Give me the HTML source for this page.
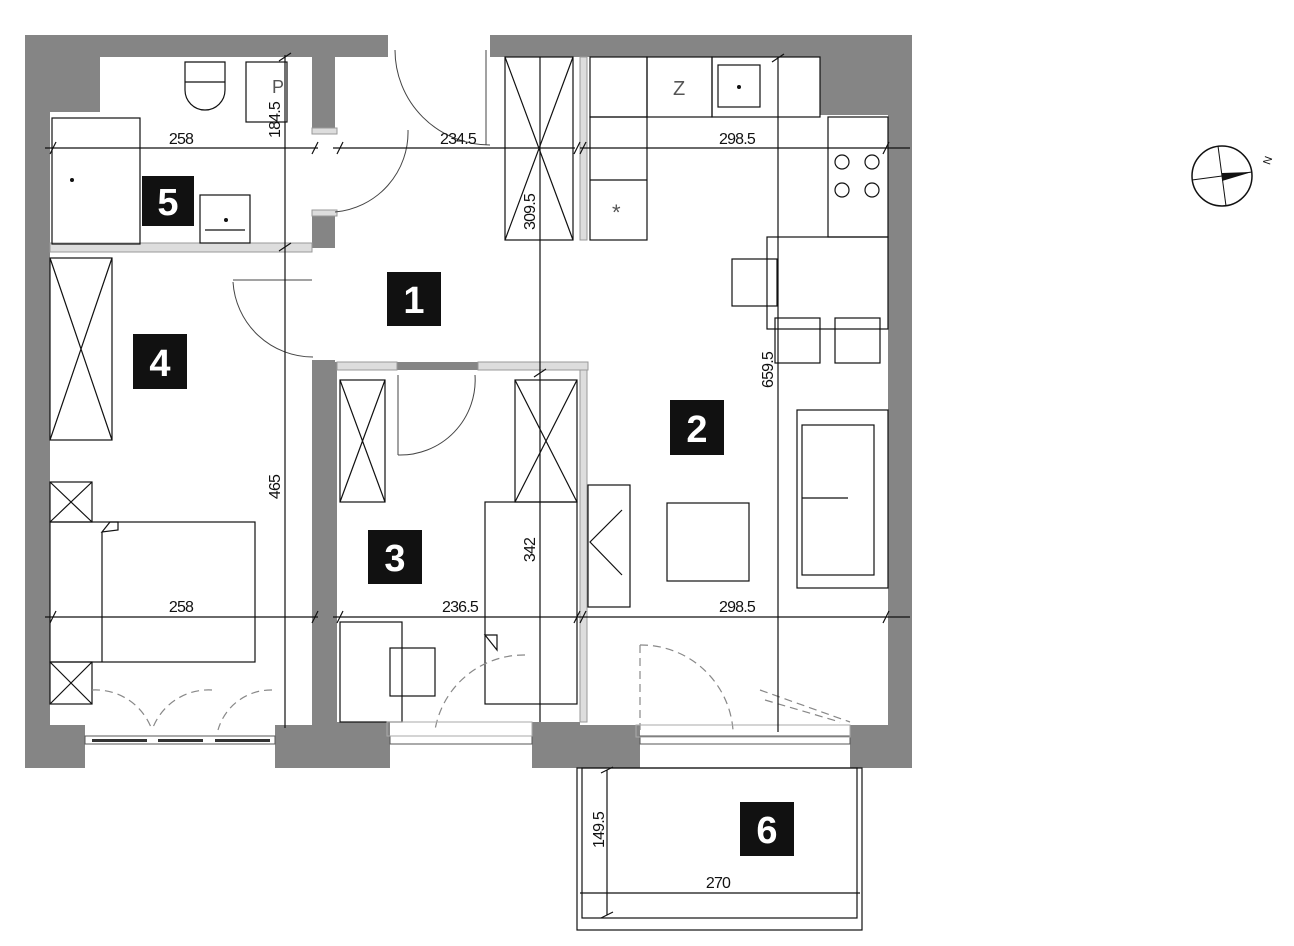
<!DOCTYPE html>
<html><head><meta charset="utf-8"><style>
html,body{margin:0;padding:0;background:#fff}
svg{display:block}
text{font-family:"Liberation Sans",sans-serif}
.d{font-size:16px;fill:#111;letter-spacing:-0.8px}
.n{font-size:38px;font-weight:bold;fill:#fff}
</style></head><body>
<svg width="1294" height="946" viewBox="0 0 1294 946" xmlns="http://www.w3.org/2000/svg">
<rect x="25" y="35" width="887" height="733" fill="#858585"/>
<rect x="388" y="35" width="102" height="22" fill="#fff"/>
<g fill="#fff">
<rect x="100" y="57" width="212" height="60"/>
<rect x="50" y="112" width="262" height="133"/>
<rect x="50" y="252" width="262" height="473"/>
<rect x="335" y="57" width="250" height="305"/>
<rect x="312" y="128" width="25" height="88"/>
<rect x="312" y="248" width="25" height="112"/>
<rect x="337" y="370" width="243" height="352"/>
<rect x="587" y="57" width="233" height="668"/>
<rect x="580" y="115" width="308" height="610"/>
<rect x="580" y="57" width="10" height="668"/>
<rect x="85" y="725" width="190" height="43"/>
<rect x="390" y="722" width="142" height="46"/>
<rect x="640" y="725" width="210" height="43"/>
</g>
<g stroke="#999" stroke-width="1" fill="#ddd">
<rect x="50" y="243" width="262" height="9"/>
<rect x="337" y="362" width="60" height="8"/>
<rect x="478" y="362" width="110" height="8"/>
<rect x="580" y="57" width="7" height="183"/>
<rect x="580" y="370" width="7" height="352"/>
<rect x="312" y="128" width="25" height="6"/>
<rect x="312" y="210" width="25" height="6"/>
</g>
<g fill="none" stroke="#111" stroke-width="1.2">
<path d="M185 62 v28 a20 20 0 0 0 40 0 v-28 z"/>
<line x1="185" y1="82" x2="225" y2="82"/>
<rect x="246" y="62" width="41" height="60"/>
<rect x="52" y="118" width="88" height="126"/>
<rect x="200" y="195" width="50" height="48"/>
<line x1="205" y1="230" x2="245" y2="230"/>
<rect x="50" y="258" width="62" height="182"/><path d="M50 258 L112 440 M112 258 L50 440"/>
<rect x="50" y="482" width="42" height="40"/><path d="M50 482 L92 522 M92 482 L50 522"/>
<rect x="50" y="662" width="42" height="42"/><path d="M50 662 L92 704 M92 662 L50 704"/>
<rect x="50" y="522" width="205" height="140"/>
<line x1="102" y1="532" x2="102" y2="662"/>
<path d="M102 532 L110 522 L118 522 L118 530 Z"/>
<rect x="505" y="57" width="68" height="183"/><path d="M505 57 L573 240 M573 57 L505 240"/>
<rect x="340" y="380" width="45" height="122"/><path d="M340 380 L385 502 M385 380 L340 502"/>
<rect x="515" y="380" width="62" height="122"/><path d="M515 380 L577 502 M577 380 L515 502"/>
<rect x="485" y="502" width="92" height="202"/>
<rect x="340" y="622" width="62" height="100"/>
<rect x="390" y="648" width="45" height="48"/>
<path d="M485 635 L497 635 L497 650 Z"/>
<rect x="590" y="57" width="57" height="60"/>
<rect x="647" y="57" width="65" height="60"/>
<rect x="712" y="57" width="108" height="60"/>
<rect x="718" y="65" width="42" height="42"/>
<rect x="590" y="117" width="57" height="123"/>
<line x1="590" y1="180" x2="647" y2="180"/>
<rect x="828" y="117" width="60" height="120"/>
<circle cx="842" cy="162" r="7"/><circle cx="872" cy="162" r="7"/>
<circle cx="842" cy="190" r="7"/><circle cx="872" cy="190" r="7"/>
<rect x="767" y="237" width="121" height="92"/>
<rect x="732" y="259" width="45" height="47"/>
<rect x="775" y="318" width="45" height="45"/>
<rect x="835" y="318" width="45" height="45"/>
<rect x="797" y="410" width="91" height="178"/>
<rect x="802" y="425" width="72" height="150"/>
<line x1="802" y1="498" x2="848" y2="498"/>
<rect x="667" y="503" width="82" height="78"/>
<rect x="588" y="485" width="42" height="122"/>
<path d="M622 510 L590 542 L622 575"/>
<rect x="577" y="768" width="285" height="162"/>
<rect x="582" y="768" width="275" height="150"/>
</g>
<g fill="none" stroke="#444" stroke-width="1">
<path d="M395 50 A95 95 0 0 0 490 145"/>
<line x1="486" y1="50" x2="486" y2="145"/>
<path d="M408 130 A80 80 0 0 1 335 212"/>
<path d="M233 282 A80 80 0 0 0 313 357"/>
<line x1="233" y1="280" x2="312" y2="280"/>
<path d="M475 375 A75 75 0 0 1 398 455"/><line x1="398" y1="375" x2="398" y2="455"/>
</g>
<g fill="none" stroke="#888" stroke-width="1.2" stroke-dasharray="8 5">
<path d="M92 690 A60 60 0 0 1 152 730"/><path d="M212 690 A60 60 0 0 0 152 730"/>
<path d="M272 690 A55 55 0 0 0 218 730"/>
<path d="M525 655 A90 90 0 0 0 435 730"/>
<path d="M640 645 A92 92 0 0 1 733 730"/><line x1="640" y1="645" x2="640" y2="730"/>
<path d="M760 690 L850 722 M765 700 L840 722"/>
</g>
<g fill="#fff" stroke="#555" stroke-width="1">
<rect x="85" y="736" width="190" height="8"/><rect x="390" y="736" width="142" height="8"/><rect x="640" y="736" width="210" height="8"/>
<rect x="636" y="725" width="214" height="12" fill="none" stroke="#aaa"/>
<rect x="387" y="722" width="145" height="14" fill="none" stroke="#aaa"/>
</g>
<g fill="#333"><rect x="92" y="739" width="55" height="3"/><rect x="158" y="739" width="45" height="3"/><rect x="215" y="739" width="55" height="3"/></g>
<g stroke="#111" stroke-width="1.2" fill="none">
<path d="M45 148 H318 M333 148 H575 M580 148 H910"/>
<path d="M45 617 H318 M333 617 H580 M580 617 H910"/>
<path d="M285 55 V728 M540 57 V722 M778 57 V732"/>
<path d="M607 770 V915 M580 893 H860"/>
<path d="M50 154 l6-12 M312 154 l6-12 M337 154 l6-12 M574 154 l6-12 M580 154 l6-12 M883 154 l6-12 M50 623 l6-12 M312 623 l6-12 M337 623 l6-12 M574 623 l6-12 M580 623 l6-12 M883 623 l6-12 M279 251 l12-8 M279 61 l12-8 M534 377 l12-8 M772 62 l12-8 M601 773 l12-6 M601 918 l12-6"/>
</g>
<g class="d">
<text x="181" y="144" text-anchor="middle">258</text>
<text x="458" y="144" text-anchor="middle">234.5</text>
<text x="737" y="144" text-anchor="middle">298.5</text>
<text x="181" y="612" text-anchor="middle">258</text>
<text x="460" y="612" text-anchor="middle">236.5</text>
<text x="737" y="612" text-anchor="middle">298.5</text>
<text x="718" y="888" text-anchor="middle">270</text>
<text transform="translate(280,120) rotate(-90)" text-anchor="middle">184.5</text>
<text transform="translate(280,487) rotate(-90)" text-anchor="middle">465</text>
<text transform="translate(535,212) rotate(-90)" text-anchor="middle">309.5</text>
<text transform="translate(535,550) rotate(-90)" text-anchor="middle">342</text>
<text transform="translate(773,370) rotate(-90)" text-anchor="middle">659.5</text>
<text transform="translate(604,830) rotate(-90)" text-anchor="middle">149.5</text>
<text x="272" y="93" font-size="18" fill="#555">P</text>
<text x="673" y="95" font-size="20" fill="#555">Z</text>
<text x="612" y="220" font-size="22" fill="#555">*</text>
</g>
<g fill="#111"><circle cx="72" cy="180" r="2"/><circle cx="226" cy="220" r="2"/><circle cx="739" cy="87" r="2"/></g>
<g>
<rect x="142" y="176" width="52" height="50" fill="#111"/><text class="n" x="168" y="215" text-anchor="middle">5</text>
<rect x="387" y="272" width="54" height="54" fill="#111"/><text class="n" x="414" y="313" text-anchor="middle">1</text>
<rect x="133" y="334" width="54" height="55" fill="#111"/><text class="n" x="160" y="376" text-anchor="middle">4</text>
<rect x="670" y="400" width="54" height="55" fill="#111"/><text class="n" x="697" y="442" text-anchor="middle">2</text>
<rect x="368" y="530" width="54" height="54" fill="#111"/><text class="n" x="395" y="571" text-anchor="middle">3</text>
<rect x="740" y="802" width="54" height="54" fill="#111"/><text class="n" x="767" y="843" text-anchor="middle">6</text>
</g>
<g transform="translate(1222,176)">
<circle r="30" fill="none" stroke="#111" stroke-width="1.5"/>
<line x1="-30" y1="4" x2="30" y2="-4" stroke="#111"/>
<line x1="-4" y1="-30" x2="4" y2="30" stroke="#111"/>
<path d="M0 -3 L30 -4 L0 5 Z" fill="#111"/>
<text x="44" y="-8" font-size="11" transform="rotate(-70 44 -12)" fill="#111">N</text>
</g>
</svg>
</body></html>
